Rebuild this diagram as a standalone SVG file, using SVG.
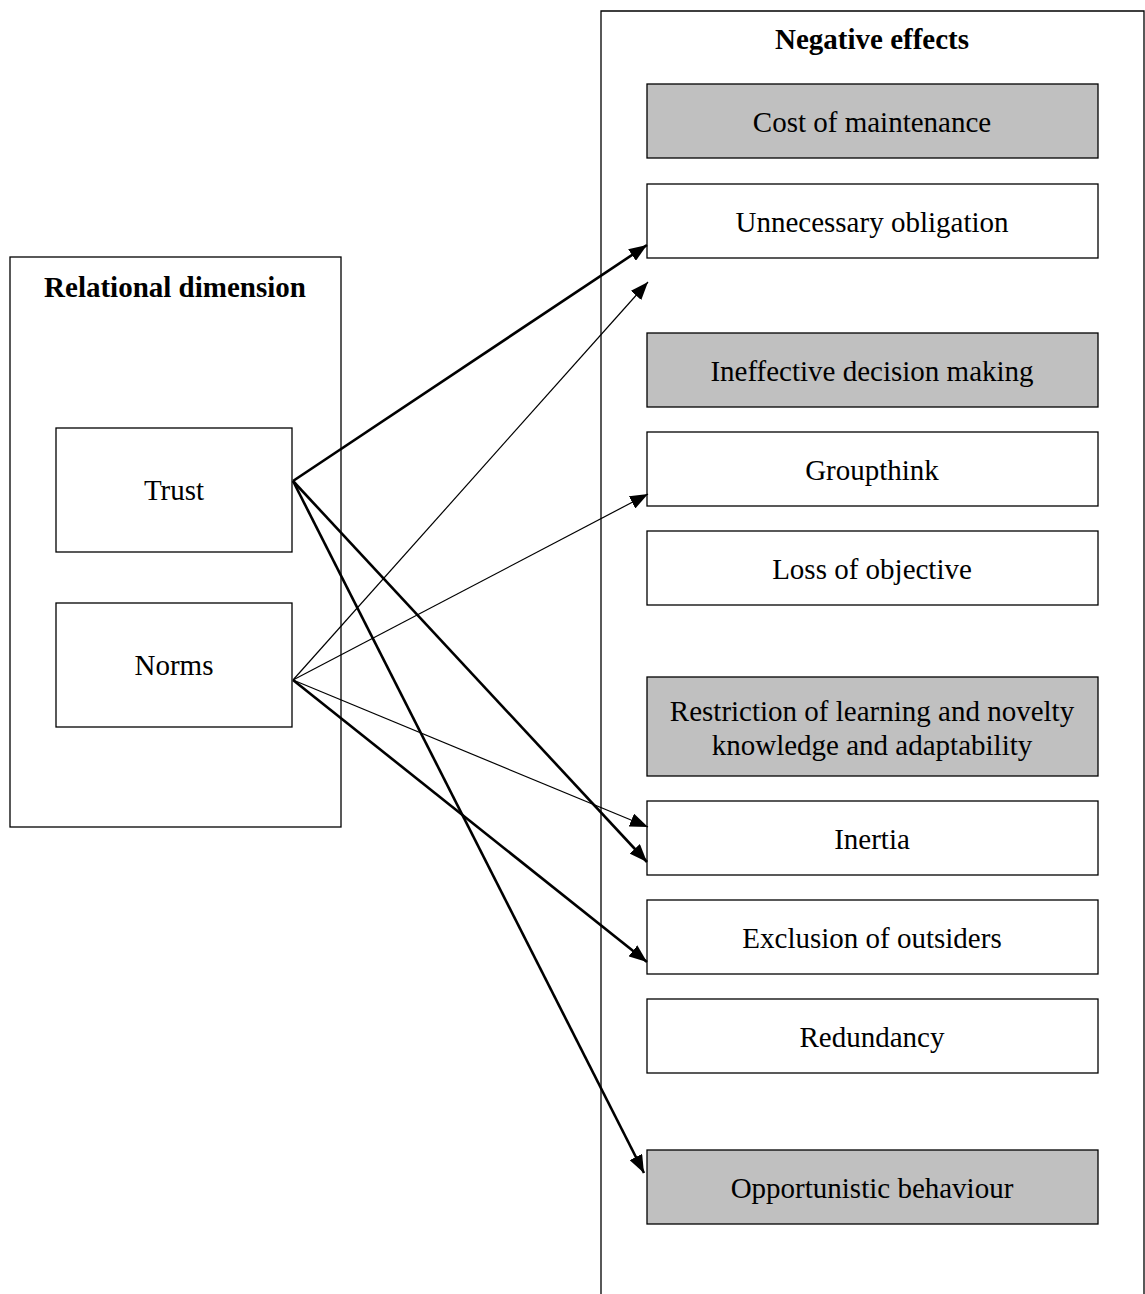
<svg xmlns="http://www.w3.org/2000/svg" width="1145" height="1294" viewBox="0 0 1145 1294">
  <style>
    .frame { fill: #ffffff; stroke: #000000; stroke-width: 1.3; }
    .box { fill: #ffffff; stroke: #000000; stroke-width: 1.3; }
    .shaded { fill: #c0c0c0; }
    .title { font-family: "Liberation Serif", "Times New Roman", serif; font-size: 29px; font-weight: bold; text-anchor: middle; fill: #000; }
    .label { font-family: "Liberation Serif", "Times New Roman", serif; font-size: 29px; text-anchor: middle; fill: #000; }
    .thick { stroke: #000; stroke-width: 2.6; fill: none; marker-end: url(#head); }
    .thin { stroke: #000; stroke-width: 1.2; fill: none; marker-end: url(#head); }
  </style>
  <defs>
    <marker id="head" viewBox="0 0 18 14" refX="18" refY="7" markerUnits="userSpaceOnUse" markerWidth="18" markerHeight="14" orient="auto">
      <path d="M0,0 L18,7 L0,14 z" fill="#000"/>
    </marker>
  </defs>
  <rect width="1145" height="1294" fill="#ffffff"/>

  <!-- Left container: relational dimension -->
  <g id="relational-dimension">
    <rect class="frame" x="10" y="257" width="331" height="570"/>
    <text class="title" x="175" y="297">Relational dimension</text>
  </g>
  <g id="trust">
    <rect class="box" x="56" y="428" width="236" height="124"/>
    <text class="label" x="174" y="500">Trust</text>
  </g>
  <g id="norms">
    <rect class="box" x="56" y="603" width="236" height="124"/>
    <text class="label" x="174" y="675">Norms</text>
  </g>

  <!-- Right container: negative effects (open at the bottom) -->
  <g id="negative-effects">
    <path d="M601,1294 L601,11 L1144,11 L1144,1294" fill="none" stroke="#000" stroke-width="1.3"/>
    <text class="title" x="872" y="49">Negative effects</text>
  </g>
  <g id="cost-of-maintenance">
    <rect class="box shaded" x="647" y="84" width="451" height="74"/>
    <text class="label" x="872" y="132">Cost of maintenance</text>
  </g>
  <g id="unnecessary-obligation">
    <rect class="box" x="647" y="184" width="451" height="74"/>
    <text class="label" x="872" y="232">Unnecessary obligation</text>
  </g>
  <g id="ineffective-decision-making">
    <rect class="box shaded" x="647" y="333" width="451" height="74"/>
    <text class="label" x="872" y="381">Ineffective decision making</text>
  </g>
  <g id="groupthink">
    <rect class="box" x="647" y="432" width="451" height="74"/>
    <text class="label" x="872" y="480">Groupthink</text>
  </g>
  <g id="loss-of-objective">
    <rect class="box" x="647" y="531" width="451" height="74"/>
    <text class="label" x="872" y="579">Loss of objective</text>
  </g>
  <g id="restriction-of-learning">
    <rect class="box shaded" x="647" y="677" width="451" height="99"/>
    <text class="label" x="872" y="721">Restriction of learning and novelty</text>
    <text class="label" x="872" y="755">knowledge and adaptability</text>
  </g>
  <g id="inertia">
    <rect class="box" x="647" y="801" width="451" height="74"/>
    <text class="label" x="872" y="849">Inertia</text>
  </g>
  <g id="exclusion-of-outsiders">
    <rect class="box" x="647" y="900" width="451" height="74"/>
    <text class="label" x="872" y="948">Exclusion of outsiders</text>
  </g>
  <g id="redundancy">
    <rect class="box" x="647" y="999" width="451" height="74"/>
    <text class="label" x="872" y="1047">Redundancy</text>
  </g>
  <g id="opportunistic-behaviour">
    <rect class="box shaded" x="647" y="1150" width="451" height="74"/>
    <text class="label" x="872" y="1198">Opportunistic behaviour</text>
  </g>

  <!-- Connectors -->
  <g id="connectors">
    <line class="thick" x1="293" y1="481" x2="647" y2="245"/>
    <line class="thick" x1="293" y1="481" x2="647" y2="862"/>
    <line class="thick" x1="293" y1="481" x2="644" y2="1173"/>
    <line class="thin" x1="293" y1="680" x2="648" y2="282"/>
    <line class="thin" x1="293" y1="680" x2="648" y2="494"/>
    <line class="thin" x1="293" y1="680" x2="648" y2="827"/>
    <line class="thick" x1="293" y1="680" x2="647" y2="962"/>
  </g>
</svg>
